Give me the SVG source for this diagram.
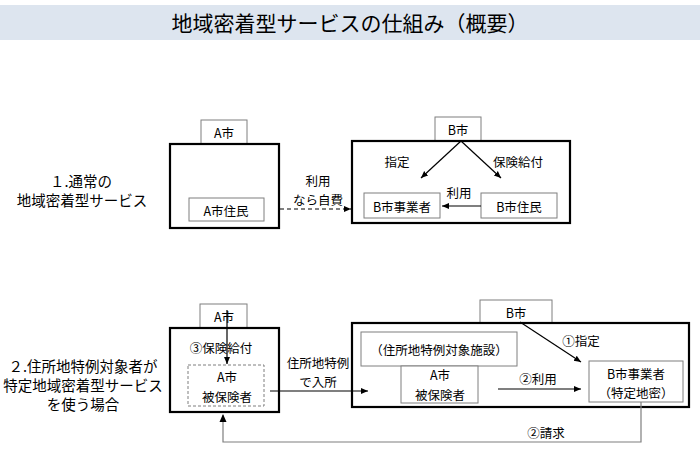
<svg xmlns="http://www.w3.org/2000/svg" width="700" height="449" viewBox="0 0 700 449">
<style>
text{font-family:"Noto Sans CJK JP","Noto Sans",sans-serif;fill:#000;dominant-baseline:central;text-anchor:middle}
.t{font-size:12.5px}
.lab{font-size:14.5px}
.main{fill:#fff;stroke:#000;stroke-width:2.2}
.tab{fill:#fff;stroke:#7f7f7f;stroke-width:1}
.inner{fill:#fff;stroke:#7f7f7f;stroke-width:1}
.dash{fill:#fff;stroke:#7f7f7f;stroke-width:1;stroke-dasharray:3 2}
.c{fill:none;stroke:#000;stroke-width:1.2}
.g{fill:none;stroke:#7f7f7f;stroke-width:1.2}
</style>
<defs>
<marker id="ah" markerWidth="8" markerHeight="8" refX="7" refY="4" orient="auto" markerUnits="userSpaceOnUse">
<path d="M0,1 L7,4 L0,7 Z" fill="#000"/>
</marker>
</defs>
<rect x="0" y="5" width="700" height="35" fill="#dde5ef"/>
<text x="350" y="22" style="font-size:21px">地域密着型サービスの仕組み（概要）</text>

<g id="label1">
<text class="lab" x="81" y="180">１.通常の</text>
<text class="lab" x="82" y="199.5">地域密着型サービス</text>
</g>
<g id="label2">
<text class="lab" x="83" y="365">２.住所地特例対象者が</text>
<text class="lab" x="83" y="384">特定地域密着型サービス</text>
<text class="lab" x="83" y="403">を使う場合</text>
</g>

<g id="a1">
<rect class="tab" x="201" y="120" width="46" height="24"/>
<text class="t" x="224" y="132">A市</text>
<rect class="main" x="170" y="144" width="109" height="84"/>
</g>
<g id="a1-resident">
<rect class="inner" x="189" y="198" width="75" height="23"/>
<text class="t" x="226" y="210">A市住民</text>
</g>

<g id="b1">
<rect class="tab" x="435" y="117" width="46" height="24"/>
<text class="t" x="458" y="129">B市</text>
<rect class="main" x="352" y="141" width="218" height="82"/>
</g>
<g id="b1-provider">
<rect class="inner" x="364" y="193" width="76" height="25"/>
<text class="t" x="402" y="206">B市事業者</text>
</g>
<g id="b1-resident">
<rect class="inner" x="481" y="193" width="76" height="25"/>
<text class="t" x="519" y="206">B市住民</text>
</g>

<g id="a2">
<rect class="tab" x="200" y="304" width="47" height="24"/>
<text class="t" x="224" y="316">A市</text>
<rect class="main" x="170" y="328" width="109" height="84"/>
</g>
<g id="a2-insured">
<rect class="dash" x="188" y="365" width="76" height="41"/>
<text class="t" x="227" y="376">A市</text>
<text class="t" x="227" y="396">被保険者</text>
</g>

<g id="b2">
<rect class="tab" x="480" y="300" width="72" height="23"/>
<text class="t" x="516" y="312">B市</text>
<rect class="main" x="352" y="323" width="337" height="84"/>
</g>
<g id="b2-facility">
<rect class="inner" x="361" y="332" width="156" height="34"/>
<text class="t" x="439" y="349">（住所地特例対象施設）</text>
</g>
<g id="b2-insured">
<rect class="inner" x="401" y="366" width="77" height="37"/>
<text class="t" x="440" y="374">A市</text>
<text class="t" x="440" y="394">被保険者</text>
</g>
<g id="b2-provider">
<rect class="inner" x="589" y="361" width="94" height="41"/>
<text class="t" x="636" y="373">B市事業者</text>
<text class="t" x="636" y="392">（特定地密）</text>
</g>

<g id="connectors">
<line class="c" x1="280" y1="209" x2="351" y2="209" stroke-dasharray="4 3" marker-end="url(#ah)"/>
<line class="c" x1="461" y1="141" x2="421" y2="178" marker-end="url(#ah)"/>
<line class="c" x1="461" y1="141" x2="501" y2="178" marker-end="url(#ah)"/>
<line class="c" x1="481" y1="206" x2="442" y2="206" marker-end="url(#ah)"/>
<line class="c" x1="227" y1="310" x2="227" y2="364" marker-end="url(#ah)"/>
<line class="c" x1="270" y1="391" x2="368" y2="391" marker-end="url(#ah)"/>
<line class="c" x1="520" y1="322" x2="581" y2="362" marker-end="url(#ah)"/>
<line class="c" x1="498" y1="389" x2="581" y2="389" marker-end="url(#ah)"/>
<polyline class="g" points="641,402 641,442 223,442 223,415"/>
<path d="M219.5,422 L223,414 L226.5,422 Z" fill="#000"/>
</g>

<g id="edge-labels">
<text class="t" x="318" y="180">利用</text>
<text class="t" x="318" y="199">なら自費</text>
<text class="t" x="397" y="161">指定</text>
<text class="t" x="518" y="161">保険給付</text>
<text class="t" x="459" y="192">利用</text>
<text class="t" x="221" y="347">③保険給付</text>
<text class="t" x="318" y="362">住所地特例</text>
<text class="t" x="318" y="381">で入所</text>
<text class="t" x="581" y="340">①指定</text>
<text class="t" x="538" y="378">②利用</text>
<text class="t" x="546" y="432">②請求</text>
</g>
</svg>
